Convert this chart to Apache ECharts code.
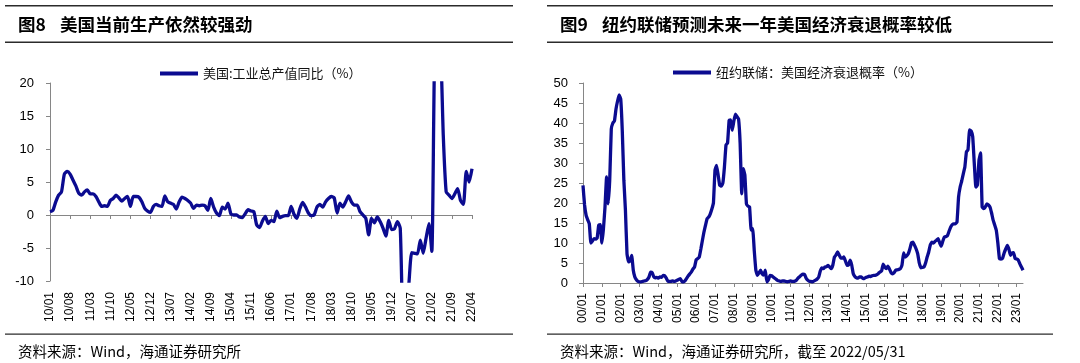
<!DOCTYPE html>
<html><head><meta charset="utf-8">
<script src="https://cdn.jsdelivr.net/npm/echarts/dist/echarts.min.js"></script>
<style>html,body{margin:0;padding:0;background:#fff}#c{width:1080px;height:363px}</style>
</head><body><div id="c"></div>
<script>
// ---------- DATA ----------
// Left chart: 美国:工业总产值同比（%）, monthly 2010/01 – 2022/04
const leftStart = [2010, 1];
const leftCount = 148;
const ipYoY = [
  0.5,0.7,2.0,3.0,3.5,6.2,6.6,6.2,5.3,4.4,3.3,3.0,          // 2010
  3.5,3.8,3.2,3.2,2.8,2.0,1.3,1.4,1.3,2.2,2.5,3.0,          // 2011
  2.6,2.1,2.5,2.8,1.3,2.8,2.8,2.7,2.0,1.0,0.6,0.4,          // 2012
  1.3,1.6,1.4,1.3,2.9,2.0,1.8,1.6,0.9,2.0,2.7,2.5,          // 2013
  2.2,1.8,1.0,1.5,1.4,1.5,1.4,0.7,2.5,1.2,0.3,-0.1,         // 2014
  1.2,0.9,1.8,0.2,0.0,0.0,-0.3,-0.4,0.2,0.8,0.6,0.5,        // 2015
  -1.5,-1.9,-0.9,-0.2,-1.3,-0.8,-1.0,0.6,-0.4,-0.2,-0.1,-0.1, // 2016
  1.3,0.1,-0.5,0.9,1.9,1.2,0.3,-0.1,0.0,1.2,1.6,1.2,        // 2017
  2.0,2.5,2.8,2.6,0.3,1.8,1.2,2.0,2.9,2.0,1.5,1.5,          // 2018
  0.5,0.0,-0.5,-3.0,-0.5,-1.2,-0.3,-1.0,-2.0,-3.2,-0.8,-2.2, // 2019
  -2.1,-1.0,-2.0,-16.0,-15.0,-10.5,-5.7,-5.8,-5.9,-3.8,-5.8,-3.5, // 2020
  -1.3,-5.5,25.0,28.0,26.0,12.0,3.5,3.0,2.5,3.2,4.0,2.2,    // 2021
  1.6,6.6,5.0,7.0                                           // 2022
];
const leftYTicks = { min: -10, max: 20, interval: 5 };

// Right chart: 纽约联储：美国经济衰退概率（%）, monthly 2000/01 – 2023/05
const rightStart = [2000, 1];
const rightCount = 281;
const recProb = [
  24.4,19.5,16.9,15.8,14.8,10.0,10.5,11.1,11.0,11.2,14.5,14.6, // 2000
  10.0,13.5,19.0,26.5,19.8,25.7,38.5,40.0,40.5,43.5,45.5,47.0, // 2001
  46.0,38.0,25.7,18.2,7.3,5.3,5.5,6.9,3.2,1.5,0.8,0.4,         // 2002
  0.3,0.3,0.4,0.5,0.6,0.9,1.5,2.7,2.6,1.6,1.3,1.4,             // 2003
  1.2,1.5,1.4,1.9,1.8,1.2,0.5,0.4,0.4,0.5,0.4,0.5,             // 2004
  0.7,0.9,1.1,0.3,0.3,0.6,1.2,1.8,2.3,2.8,3.5,4.0,             // 2005
  5.8,6.1,6.5,8.5,10.7,12.8,14.5,16.1,16.5,17.3,18.5,20.0,     // 2006
  28.2,29.4,27.0,24.4,24.2,25.0,29.0,34.5,35.0,40.7,40.8,38.2, // 2007
  40.5,42.2,41.6,41.0,34.9,22.3,28.6,27.0,19.8,19.2,19.0,13.2, // 2008
  13.6,8.0,3.2,1.9,2.5,3.2,2.3,2.0,3.2,0.3,0.8,1.9,            // 2009
  1.8,1.5,1.2,0.9,0.6,0.5,0.4,0.5,0.5,0.4,0.3,0.4,             // 2010
  0.5,0.4,0.4,0.5,0.8,1.3,1.6,2.0,2.2,2.1,1.2,0.7,             // 2011
  0.4,0.4,0.3,0.5,0.7,1.0,1.5,3.0,3.8,3.6,4.0,4.1,             // 2012
  4.4,4.0,3.6,4.5,6.5,7.0,7.8,7.0,6.3,6.2,6.5,5.5,             // 2013
  4.4,4.5,5.7,4.5,2.3,1.6,1.3,1.2,1.5,1.5,1.2,1.1,             // 2014
  1.4,1.5,1.7,1.6,1.8,1.9,1.9,2.1,2.4,2.75,3.0,4.7,            // 2015
  4.0,3.6,4.2,3.5,2.6,2.3,2.6,3.2,3.3,3.4,3.6,4.5,             // 2016
  7.5,6.5,6.8,7.3,8.5,10.0,10.2,9.4,8.5,7.3,5.0,3.8,           // 2017
  3.9,4.0,5.0,6.5,7.75,9.5,10.2,10.0,10.4,10.7,11.1,10.0,      // 2018
  9.2,10.5,11.5,11.6,11.9,13.0,14.0,14.6,14.8,14.8,15.25,21.5, // 2019
  24.0,25.5,27.3,29.0,32.8,33.3,38.25,38.0,36.6,29.9,24.0,24.5,// 2020
  30.7,32.5,19.0,18.6,19.0,19.8,19.5,19.0,17.5,15.7,14.5,13.2, // 2021
  10.0,6.1,6.0,6.2,7.5,8.5,9.4,8.5,6.9,7.5,7.6,6.1,            // 2022
  6.0,5.7,4.8,4.0,3.2                                          // 2023
];
const rightYTicks = { min: 0, max: 50, interval: 5 };

const leftLabelEvery = 7;   // months between x labels
const rightLabelEvery = 12;

const leftName = '美国:工业总产值同比（%）';
const rightName = '纽约联储：美国经济衰退概率（%）';
const leftTitleNo = '图8', leftTitle = '美国当前生产依然较强劲';
const rightTitleNo = '图9', rightTitle = '纽约联储预测未来一年美国经济衰退概率较低';
const leftSource = '资料来源：Wind，海通证券研究所';
const rightSource = '资料来源：Wind，海通证券研究所，截至 2022/05/31';

// ---------- helpers ----------
function monthCats(start, n) {
  const out = [];
  let y = start[0], m = start[1];
  for (let i = 0; i < n; i++) {
    out.push(String(y % 100).padStart(2, '0') + '/' + String(m).padStart(2, '0'));
    m++; if (m > 12) { m = 1; y++; }
  }
  return out;
}
const leftCats = monthCats(leftStart, leftCount);
const rightCats = monthCats(rightStart, rightCount);

const LINE = '#0B0B90';
const AXIS = '#868686';
const LATIN = '"Liberation Sans", Arial, sans-serif';
const CJK = '"Noto Sans CJK SC", sans-serif';

const chart = echarts.init(document.getElementById('c'), null, { renderer: 'canvas' });

function rule(x, y, w, h) {
  return { type: 'rect', shape: { x: x, y: y, width: w, height: h }, style: { fill: '#2b2b2b' }, silent: true };
}
function txt(x, y, text, font) {
  return { type: 'text', x: x, y: y, style: { text: text, font: font, fill: '#000', textVerticalAlign: 'middle', verticalAlign: 'middle' }, silent: true };
}

const option = {
  animation: false,
  backgroundColor: '#fff',
  grid: [
    { left: 50, right: 608, top: 83, bottom: 82, containLabel: false, outerBoundsMode: 'none' },
    { left: 583, right: 57, top: 83, bottom: 80, containLabel: false, outerBoundsMode: 'none' }
  ],
  legend: [
    { data: [leftName], left: 155, top: 62, icon: 'rect', itemWidth: 38, itemHeight: 4, itemGap: 5,
      textStyle: { fontSize: 13, fontFamily: CJK, color: '#111' } },
    { data: [rightName], left: 668, top: 61, icon: 'rect', itemWidth: 38, itemHeight: 4, itemGap: 5,
      textStyle: { fontSize: 13, fontFamily: CJK, color: '#111' } }
  ],
  xAxis: [
    { type: 'category', gridIndex: 0, data: leftCats, boundaryGap: false, position: 'bottom',
      axisLine: { show: false, onZero: false }, axisTick: { show: false }, splitLine: { show: false },
      axisLabel: { interval: leftLabelEvery - 1, rotate: 90, margin: 11, fontSize: 12, color: '#000', fontFamily: LATIN } },
    { type: 'category', gridIndex: 0, data: leftCats, boundaryGap: false, position: 'bottom',
      axisLine: { show: true, onZero: true, onZeroAxisIndex: 0, lineStyle: { color: AXIS, width: 1 } },
      axisTick: { show: true, interval: leftLabelEvery - 1, length: 4, inside: false, lineStyle: { color: AXIS } },
      axisLabel: { show: false }, splitLine: { show: false } },
    { type: 'category', gridIndex: 1, data: rightCats, boundaryGap: false, position: 'bottom',
      axisLine: { show: true, onZero: false, lineStyle: { color: AXIS, width: 1 } },
      axisTick: { show: true, interval: rightLabelEvery - 1, length: 4, inside: false, lineStyle: { color: AXIS } },
      axisLabel: { interval: rightLabelEvery - 1, rotate: 90, margin: 10, fontSize: 12, color: '#000', fontFamily: LATIN },
      splitLine: { show: false } }
  ],
  yAxis: [
    { type: 'value', gridIndex: 0, min: leftYTicks.min, max: leftYTicks.max, interval: leftYTicks.interval,
      axisLine: { show: true, lineStyle: { color: AXIS } },
      axisTick: { show: true, length: 4, lineStyle: { color: AXIS } },
      axisLabel: { fontSize: 13, color: '#000', margin: 16, fontFamily: LATIN },
      splitLine: { show: false } },
    { type: 'value', gridIndex: 1, min: rightYTicks.min, max: rightYTicks.max, interval: rightYTicks.interval,
      axisLine: { show: true, lineStyle: { color: AXIS } },
      axisTick: { show: true, length: 4, lineStyle: { color: AXIS } },
      axisLabel: { fontSize: 13, color: '#000', margin: 15, fontFamily: LATIN },
      splitLine: { show: false } }
  ],
  series: [
    { name: leftName, type: 'line', xAxisIndex: 0, yAxisIndex: 0, data: ipYoY, showSymbol: false, symbol: 'none',
      smooth: 0.2, clip: true, lineStyle: { color: LINE, width: 3.3 }, itemStyle: { color: LINE } },
    { name: rightName, type: 'line', xAxisIndex: 2, yAxisIndex: 1, data: recProb, showSymbol: false, symbol: 'none',
      smooth: 0.1, clip: true, lineStyle: { color: LINE, width: 3.3 }, itemStyle: { color: LINE } }
  ],
  graphic: [
    rule(5, 5, 508, 1.5), rule(5, 41.5, 508, 1.5), rule(5, 333.5, 508, 1.2),
    rule(547, 5, 506, 1.5), rule(547, 41.5, 506, 1.5), rule(547, 333.5, 506, 1.2),
    txt(18, 24, leftTitleNo, 'bold 17.5px ' + CJK),
    txt(60, 24, leftTitle, 'bold 17.5px ' + CJK),
    txt(560, 24, rightTitleNo, 'bold 17.5px ' + CJK),
    txt(602, 24, rightTitle, 'bold 17.5px ' + CJK),
    txt(18, 351, leftSource, '14.5px ' + CJK),
    txt(560, 351, rightSource, '14.5px ' + CJK)
  ]
};
chart.setOption(option);
</script>
</body></html>
